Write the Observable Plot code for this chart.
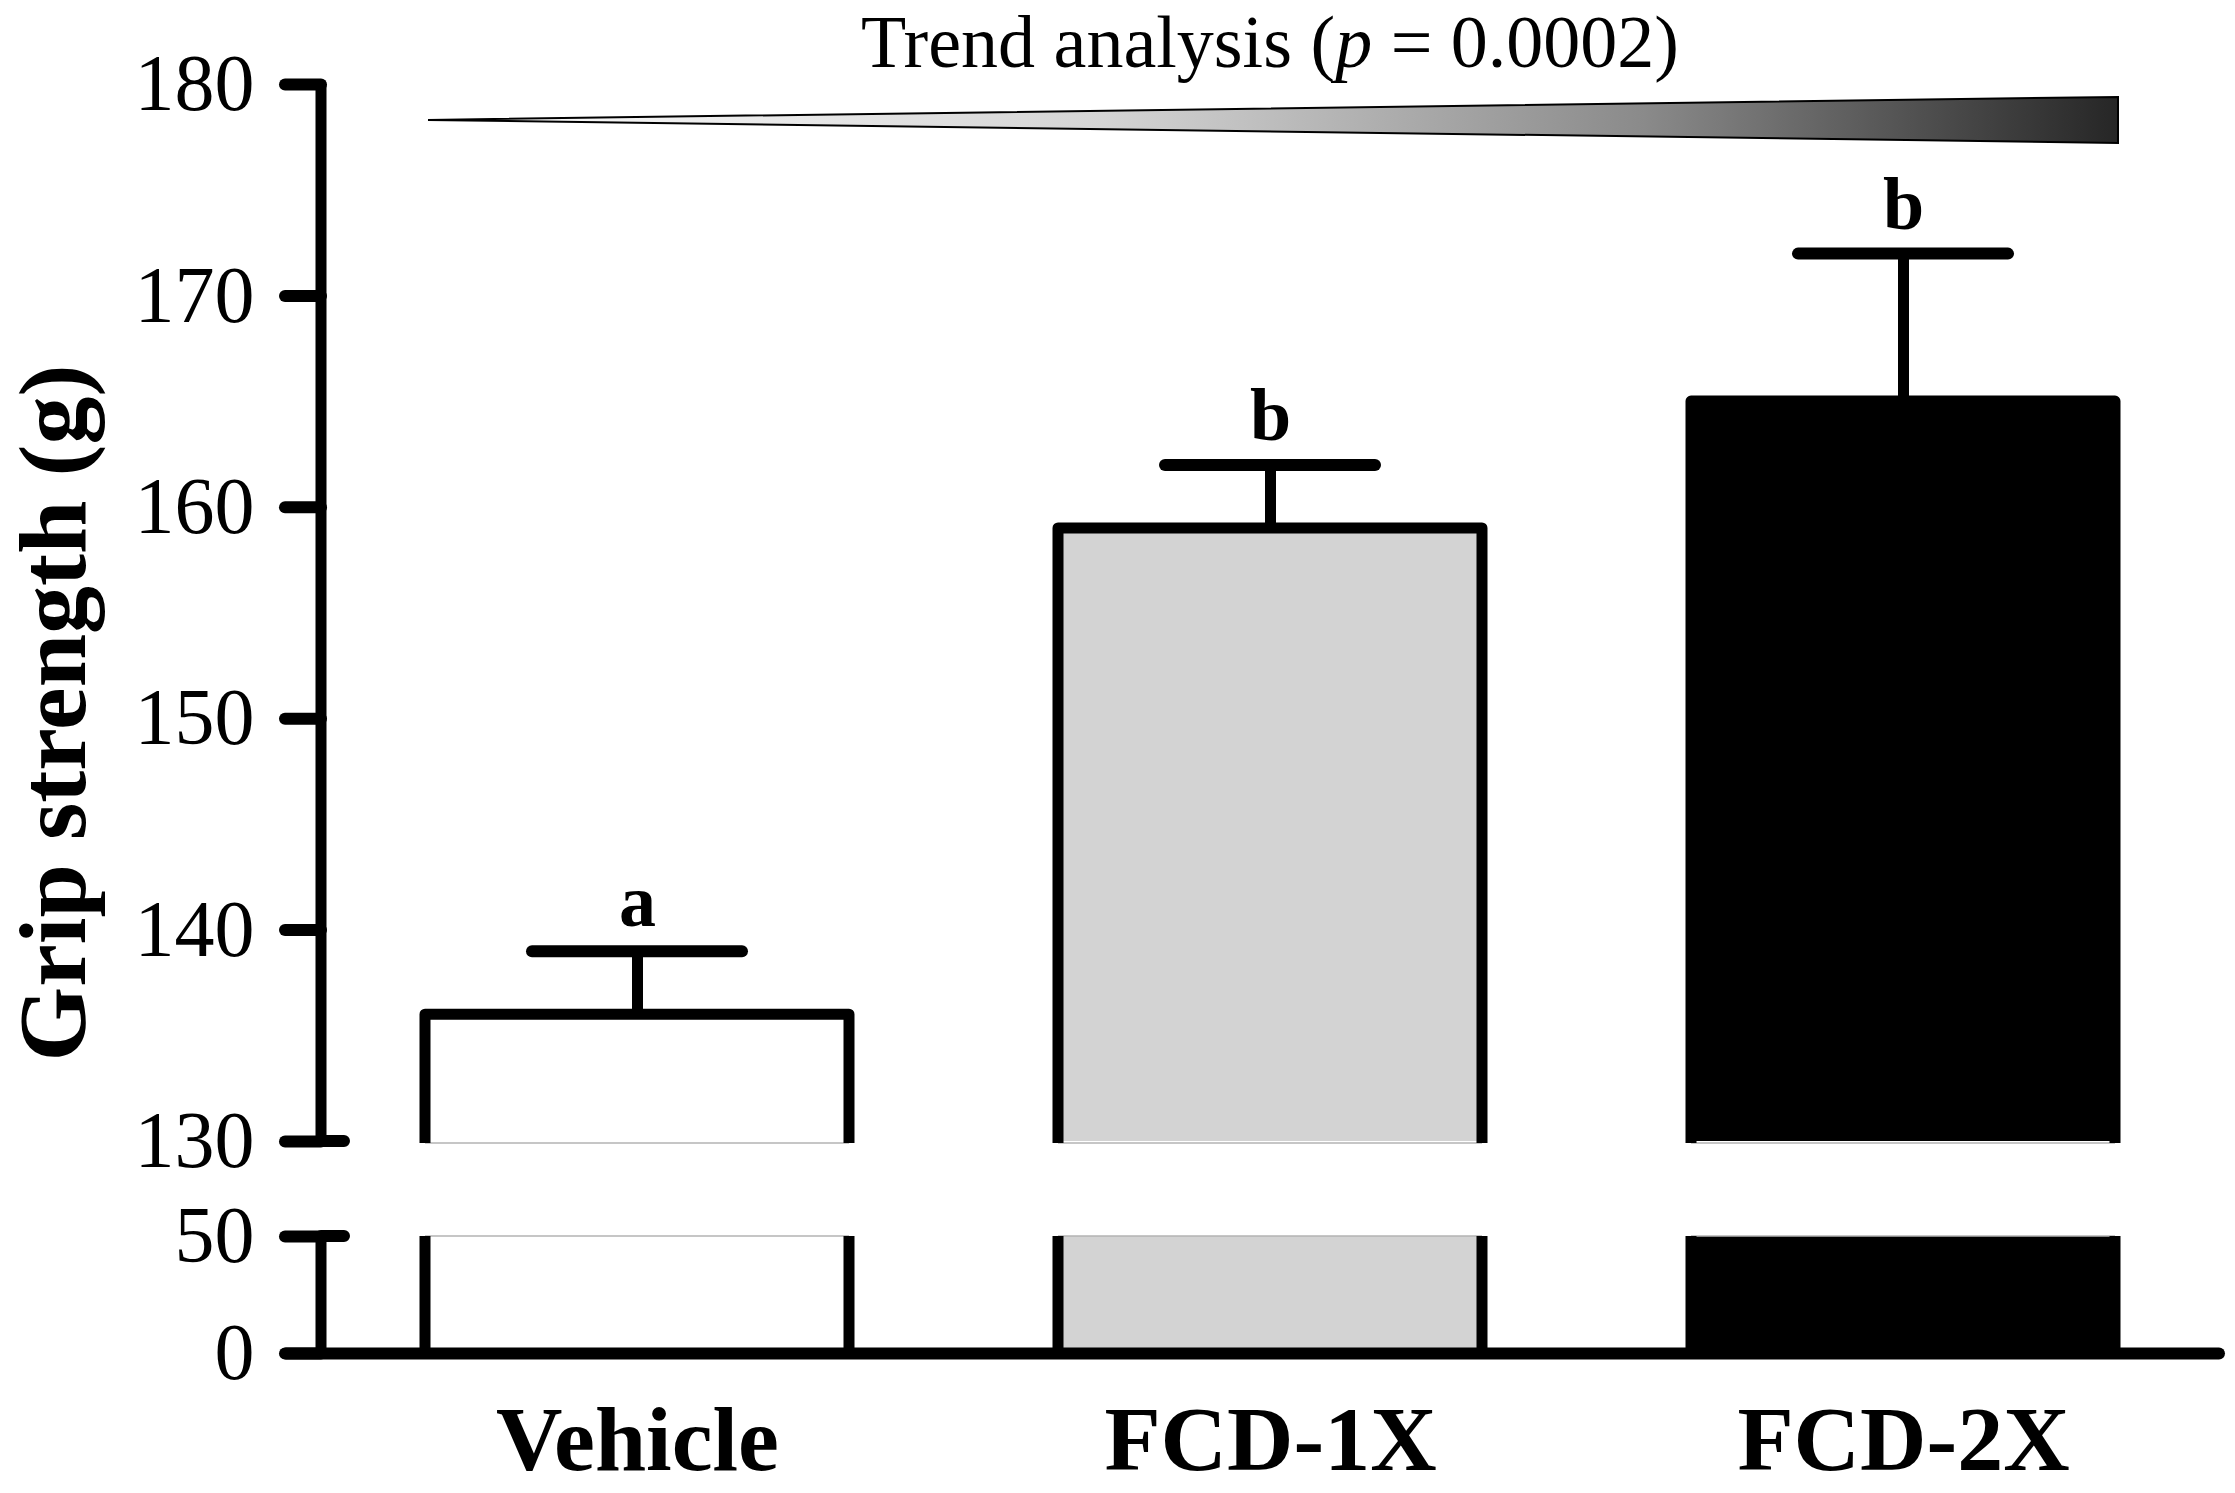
<!DOCTYPE html>
<html>
<head>
<meta charset="utf-8">
<script src="https://cdn.jsdelivr.net/npm/d3@7"></script>
<script src="https://cdn.jsdelivr.net/npm/@observablehq/plot@0.6"></script>
<style>
  html, body { margin: 0; padding: 0; background: #fff; overflow: hidden; }
  #chart svg { display: block; }
</style>
</head>
<body>
<div id="chart"></div>
<script>
// ---- data ----
const groups = ["Vehicle", "FCD-1X", "FCD-2X"];
const means = [136, 159, 165];
const sems = [3, 3, 7];
const letters = ["a", "b", "b"];
const fills = ["#ffffff", "#d3d3d3", "#000000"];
const yTicks = [0, 50, 130, 140, 150, 160, 170, 180];
const breakLow = 50;
const breakHigh = 130;
const yTitle = "Grip strength (g)";
const trendParts = ["Trend analysis (", "p", " = 0.0002)"];
const trendLevel = 178.3;

const bars = groups.map((g, i) => ({group: g, value: means[i], err: sems[i], letter: letters[i], fill: fills[i]}));

const serif = "'Liberation Serif', 'Times New Roman', serif";
const W = 2235, H = 1493;
const mTop = 84, mBottom = 140, mLeft = 321, mRight = 15;
const yMax = d3.max(yTicks);

// broken-axis transform: pixel heights of the lower segment, the gap and the upper segment
const lowSpan = 117, gapSpan = 95, highSpan = H - mTop - mBottom - lowSpan - gapSpan;
function brk(v) {
  return v <= breakLow
    ? (v / breakLow) * lowSpan
    : v >= breakHigh
      ? lowSpan + gapSpan + ((v - breakHigh) / (yMax - breakHigh)) * highSpan
      : lowSpan + ((v - breakLow) / (breakHigh - breakLow)) * gapSpan;
}
const tickPositions = yTicks.map(brk);
const tickLabel = (u) => {
  const i = tickPositions.findIndex((p) => Math.abs(p - u) < 1e-6);
  return i < 0 ? "" : String(yTicks[i]);
};

function decorations(index, scales, values, dims) {
  const {x} = scales;
  const Y = (v) => scales.y(brk(v));
  const bw = x.bandwidth();
  const g = d3.create("svg:g");

  // thin edges at the break
  const edges = g.append("g").attr("stroke", "#b4b4b4").attr("stroke-width", 1.5);
  for (const d of bars) {
    const x0 = x(d.group), x1 = x0 + bw;
    edges.append("path").attr("d", `M${x0},${Y(breakHigh) + 2}H${x1}M${x0},${Y(breakLow)}H${x1}`);
  }

  // bar outlines (open at the break)
  const outline = g.append("g").attr("fill", "none").attr("stroke", "#000")
    .attr("stroke-width", 11).attr("stroke-linejoin", "round");
  for (const d of bars) {
    const x0 = x(d.group), x1 = x0 + bw;
    outline.append("path").attr("d",
      `M${x0},${Y(breakHigh) + 2}V${Y(d.value)}H${x1}V${Y(breakHigh) + 2}` +
      `M${x0},${Y(breakLow)}V${Y(0)}M${x1},${Y(breakLow)}V${Y(0)}`);
  }

  // broken y axis line
  const ax = dims.marginLeft;
  g.append("path").attr("fill", "none").attr("stroke", "#000").attr("stroke-width", 11)
    .attr("d", `M${ax},${Y(yMax)}V${Y(breakHigh)}M${ax},${Y(breakLow)}V${Y(0)}`);
  g.append("path").attr("fill", "none").attr("stroke", "#000").attr("stroke-width", 12)
    .attr("stroke-linecap", "round")
    .attr("d", `M${ax},${Y(breakHigh)}H${ax + 23}M${ax},${Y(breakLow)}H${ax + 23}`);

  // trend wedge
  const wx0 = x(groups[0]) + 3, wx1 = x(groups[groups.length - 1]) + bw + 3, wy = Y(trendLevel);
  const defs = g.append("defs");
  const grad = defs.append("linearGradient").attr("id", "trendGrad")
    .attr("x1", 0).attr("x2", 1).attr("y1", 0).attr("y2", 0);
  [[0, "#ffffff"], [0.4, "#d4d4d4"], [0.72, "#8a8a8a"], [1, "#262626"]].forEach(([o, c]) =>
    grad.append("stop").attr("offset", o).attr("stop-color", c));
  g.append("path")
    .attr("d", `M${wx0},${wy}L${wx1},${wy - 23}V${wy + 23}Z`)
    .attr("fill", "url(#trendGrad)").attr("stroke", "#000").attr("stroke-width", 2);

  // trend title
  const t = g.append("text")
    .attr("x", x(groups[1]) + bw / 2)
    .attr("y", dims.marginTop - 17)
    .attr("text-anchor", "middle")
    .attr("font-family", serif)
    .attr("font-size", 74)
    .attr("fill", "#000")
    .style("white-space", "pre");
  t.append("tspan").text(trendParts[0]);
  t.append("tspan").attr("font-style", "italic").text(trendParts[1]);
  t.append("tspan").text(trendParts[2]);

  return g.node();
}

const chart = Plot.plot({
  width: W,
  height: H,
  marginTop: mTop,
  marginBottom: mBottom,
  marginLeft: mLeft,
  marginRight: mRight,
  style: {background: "#fff", fontFamily: serif, color: "#000"},
  x: {domain: groups, paddingInner: 0.33, paddingOuter: 0.165, label: null},
  y: {transform: brk, domain: [0, brk(yMax)], label: null},
  marks: [
    // bar fills, lower and upper segments
    Plot.barY(bars, {x: "group", y1: 0, y2: breakLow, fill: "fill"}),
    Plot.barY(bars, {x: "group", y1: breakHigh, y2: "value", fill: "fill"}),
    decorations,
    // error bars
    Plot.ruleX(bars, {x: "group", y1: "value", y2: d => d.value + d.err, stroke: "#000", strokeWidth: 11}),
    Plot.tickY(bars, {x: "group", y: d => d.value + d.err, stroke: "#000", strokeWidth: 12,
      strokeLinecap: "round", insetLeft: 107, insetRight: 107}),
    // significance letters
    Plot.text(bars, {x: "group", y: d => d.value + d.err, text: "letter", dy: -25,
      lineAnchor: "bottom", fontSize: 74, fontWeight: "bold", fontFamily: serif, fill: "#000"}),
    // x axis line
    Plot.ruleY([0], {stroke: "#000", strokeWidth: 12, strokeLinecap: "round", insetLeft: -35, insetRight: 1}),
    // axes
    Plot.axisY({ticks: tickPositions, tickSize: 36, tickPadding: 31, fontSize: 80, fontFamily: serif,
      stroke: "#000", strokeWidth: 12, strokeLinecap: "round", tickFormat: tickLabel, label: null}),
    Plot.axisX({tickSize: 0, tickPadding: 51, fontSize: 92, fontWeight: "bold", fontFamily: serif, label: null}),
    // y axis title
    Plot.text([yTitle], {text: d => d, frameAnchor: "left", textAnchor: "middle", rotate: -90, dx: -267, dy: -6,
      lineAnchor: "middle", fontSize: 96, fontWeight: "bold", fontFamily: serif, fill: "#000"})
  ]
});

document.getElementById("chart").appendChild(chart);
</script>
</body>
</html>
